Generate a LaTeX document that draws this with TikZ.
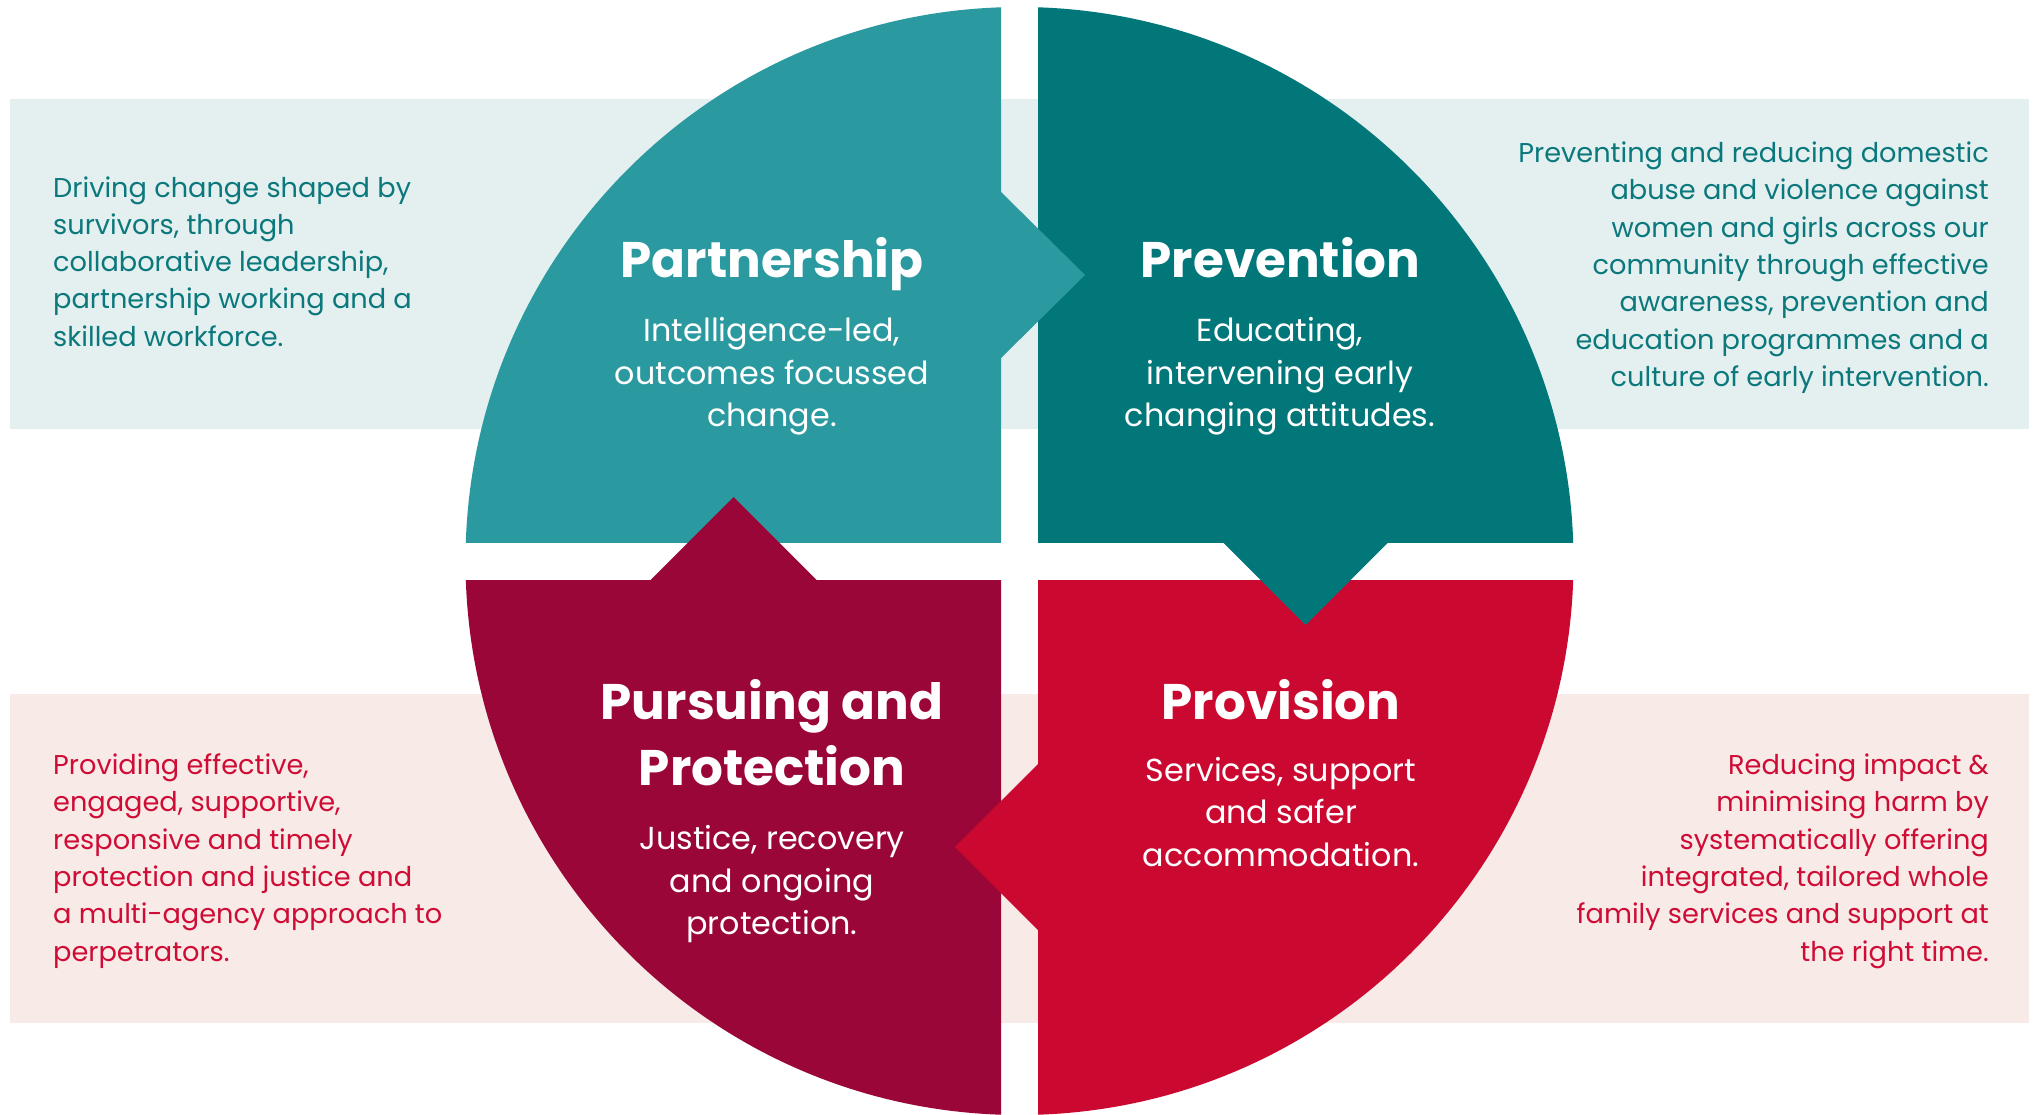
\documentclass[tikz,border=0pt]{standalone}
\usepackage{fontspec}
\setmainfont{Poppins}
\definecolor{cPart}{HTML}{2A9AA0}
\definecolor{cPrev}{HTML}{02777A}
\definecolor{cPurs}{HTML}{9A0638}
\definecolor{cProv}{HTML}{CB0930}
\definecolor{bandTop}{HTML}{E4EFF0}
\definecolor{bandBot}{HTML}{F8EAE6}
\definecolor{txtTeal}{HTML}{0B787C}
\definecolor{txtRed}{HTML}{CF0C36}
\newcommand\descfont{\fontsize{27.2}{37.3}\selectfont}
\newcommand\subfont{\fontsize{31.8}{42.5}\selectfont}
\newcommand\titlefont{\fontsize{50}{66}\selectfont\bfseries}
\tikzset{
  desc/.style={inner sep=0pt, font=\descfont},
  title/.style={inner sep=0pt, text=white, font=\titlefont},
  sub/.style={inner sep=0pt, text=white, font=\subfont},
}
\begin{document}
\begin{tikzpicture}[x=1pt,y=-1pt]
\useasboundingbox (0,0) rectangle (2035,1114);
\fill[white] (0,0) rectangle (2035,1114);
% bands
\fill[bandTop] (10,98.5) rectangle (2029,428.5);
\fill[bandBot] (10,694) rectangle (2029,1023);
% quadrants
\coordinate (C) at (1019.5,561);
\begin{scope}\clip (0,0) rectangle (1001,542);
  \fill[cPart] (C) circle (554pt);\end{scope}
\begin{scope}\clip (1038,0) rectangle (2035,542);
  \fill[cPrev] (C) circle (554pt);\end{scope}
\begin{scope}\clip (0,580) rectangle (1001,1200);
  \fill[cPurs] (C) circle (554pt);\end{scope}
\begin{scope}\clip (1038,580) rectangle (2035,1200);
  \fill[cProv] (C) circle (554pt);\end{scope}
% arrows
\fill[cPart] (1000,191) -- (1085,275) -- (1000,359) -- cycle;
\fill[cPrev] (1221.5,541) -- (1305.5,625) -- (1389.5,541) -- cycle;
\fill[cProv] (1039,763) -- (955,847) -- (1039,931) -- cycle;
\fill[cPurs] (649.5,581) -- (733.5,497) -- (817.5,581) -- cycle;
% descriptions
\node[desc, text=txtTeal, anchor=base west] (dPart) at (53,197)
  {\parbox[t]{500pt}{\raggedright\descfont
  Driving change shaped by\\ survivors, through\\ collaborative leadership,\\ partnership working and a\\ skilled workforce.}};
\node[desc, text=txtTeal, anchor=base east] (dPrev) at (1989,162.6)
  {\parbox[t]{600pt}{\raggedleft\descfont
  Preventing and reducing domestic\\ abuse and violence against\\ women and girls across our\\ community through effective\\ awareness, prevention and\\ education programmes and a\\ culture of early intervention.}};
\node[desc, text=txtRed, anchor=base west] (dPurs) at (53,774.5)
  {\parbox[t]{500pt}{\raggedright\descfont
  Providing effective,\\ engaged, supportive,\\ responsive and timely\\ protection and justice and\\ a multi-agency approach to\\ perpetrators.}};
\node[desc, text=txtRed, anchor=base east] (dProv) at (1989,774.5)
  {\parbox[t]{600pt}{\raggedleft\descfont
  Reducing impact \&\\ minimising harm by\\ systematically offering\\ integrated, tailored whole\\ family services and support at\\ the right time.}};
% titles
\node[title, anchor=base] (tPart) at (772,277.5) {Partnership};
\node[title, anchor=base] (tPrev) at (1280.5,277.5) {Prevention};
\node[title, anchor=base] (tPurs) at (772,719)
  {\parbox[t]{500pt}{\centering\titlefont Pursuing and\\ Protection}};
\node[title, anchor=base] (tProv) at (1281,719) {Provision};
% subtitles
\node[sub, anchor=base] (sPart) at (772,341.7)
  {\parbox[t]{500pt}{\centering\subfont Intelligence-led,\\ outcomes focussed\\ change.}};
\node[sub, anchor=base] (sPrev) at (1280,341.7)
  {\parbox[t]{500pt}{\centering\subfont Educating,\\ intervening early\\ changing attitudes.}};
\node[sub, anchor=base] (sPurs) at (772,849.5)
  {\parbox[t]{500pt}{\centering\subfont Justice, recovery\\ and ongoing\\ protection.}};
\node[sub, anchor=base] (sProv) at (1281,781.4)
  {\parbox[t]{500pt}{\centering\subfont Services, support\\ and safer\\ accommodation.}};
\end{tikzpicture}
\end{document}
